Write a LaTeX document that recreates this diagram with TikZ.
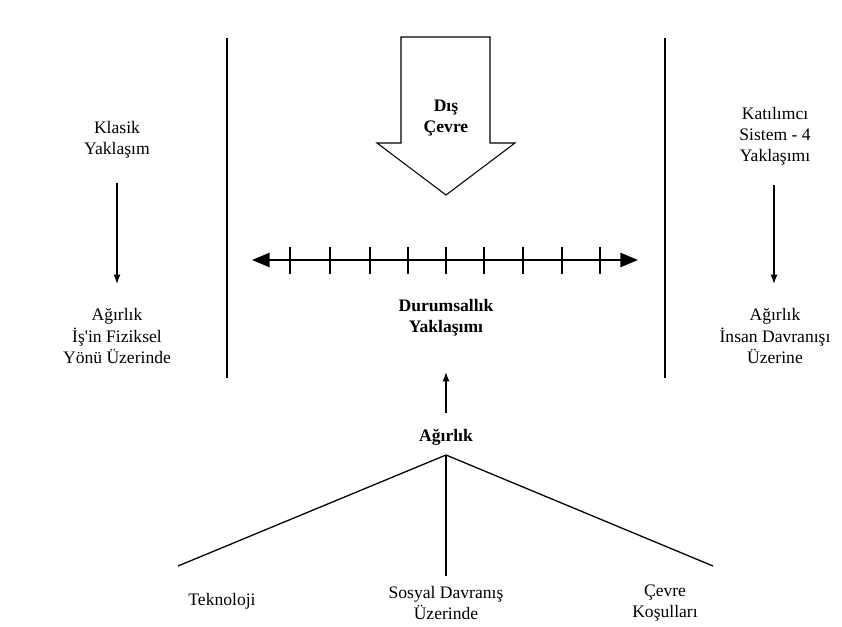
\documentclass[tikz,border=0pt]{standalone}
\usepackage{fontspec}
\setmainfont{Liberation Serif}
\usepackage{tikz}
\usetikzlibrary{arrows.meta}
\tikzstyle{label} = [align=center, font=\fontsize{15}{18}\selectfont, inner sep=1pt]
\tikzstyle{title} = [label, font=\fontsize{15}{18}\selectfont\bfseries]
\tikzstyle{point} = [coordinate]
\tikzstyle{divider} = [line width=1.5pt]
\tikzstyle{link} = [line width=1.1pt]

\begin{document}
\begin{tikzpicture}[x=0.03cm, y=-0.03cm, >={Latex[length=8pt,width=6pt]}]
    \useasboundingbox (0,0) rectangle (842,627);
    % We start by placing the side approaches
    \node [label] (klasik) at (117,140) {Klasik\\Yaklaşım};
    \node [label] (fizik) at (117,336) {Ağırlık\\İş\textquotesingle in Fiziksel\\Yönü Üzerinde};
    \node [label] (katilim) at (775,136) {Katılımcı\\Sistem - 4\\Yaklaşımı};
    \node [label] (insan) at (775,336) {Ağırlık\\İnsan Davranışı\\Üzerine};
    % The middle column
    \node [title] (durum) at (446,318) {Durumsallık\\Yaklaşımı};
    \node [title] (agirlik) at (446,437) {Ağırlık};
    \node [label] (tekno) at (222,601) {Teknoloji};
    \node [label] (sosyal) at (446,603) {Sosyal Davranış\\Üzerinde};
    \node [label] (cevre) at (665,603) {Çevre\\Koşulları};
    \node [point] (left) at (252,260) {};
    \node [point] (right) at (638,260) {};
    \node [point] (klasikout) at (117,183) {};
    \node [point] (fizikin) at (117,284) {};
    \node [point] (katilimout) at (774,185) {};
    \node [point] (insanin) at (774,284) {};
    \node [point] (agirlikout) at (446,413) {};
    \node [point] (durumin) at (446,372) {};
    \node [point] (fork) at (446,455) {};
    \node [point] (teknoend) at (178,566) {};
    \node [point] (sosyalend) at (446,576) {};
    \node [point] (cevreend) at (713,566) {};
    % Dividers between the columns
    \draw [divider] (227,38) -- (227,378);
    \draw [divider] (665,38) -- (665,378);
    % The outer environment arrow
    \draw [line width=0.9pt] (401,37) -- (490,37) -- (490,143) -- (515,143) -- (446,195)
        -- (377,143) -- (401,143) -- cycle;
    \node [title] (dis) at (446,118) {Dış\\Çevre};
    % Scale with ticks
    \draw [{Triangle[length=15pt,width=12pt]}-{Triangle[length=15pt,width=12pt]}, line width=2pt] (left) -- (right);
    \foreach \x in {290,330,370,408,446,484,523,562,600}
        \draw [line width=1.8pt] (\x,247) -- (\x,274);
    % We draw the edges
    \draw [->, link] (klasikout) -- (fizikin);
    \draw [->, link] (katilimout) -- (insanin);
    \draw [->, link] (agirlikout) -- (durumin);
    \draw [link] (fork) -- (teknoend);
    \draw [link] (fork) -- (sosyalend);
    \draw [link] (fork) -- (cevreend);
\end{tikzpicture}
\end{document}
